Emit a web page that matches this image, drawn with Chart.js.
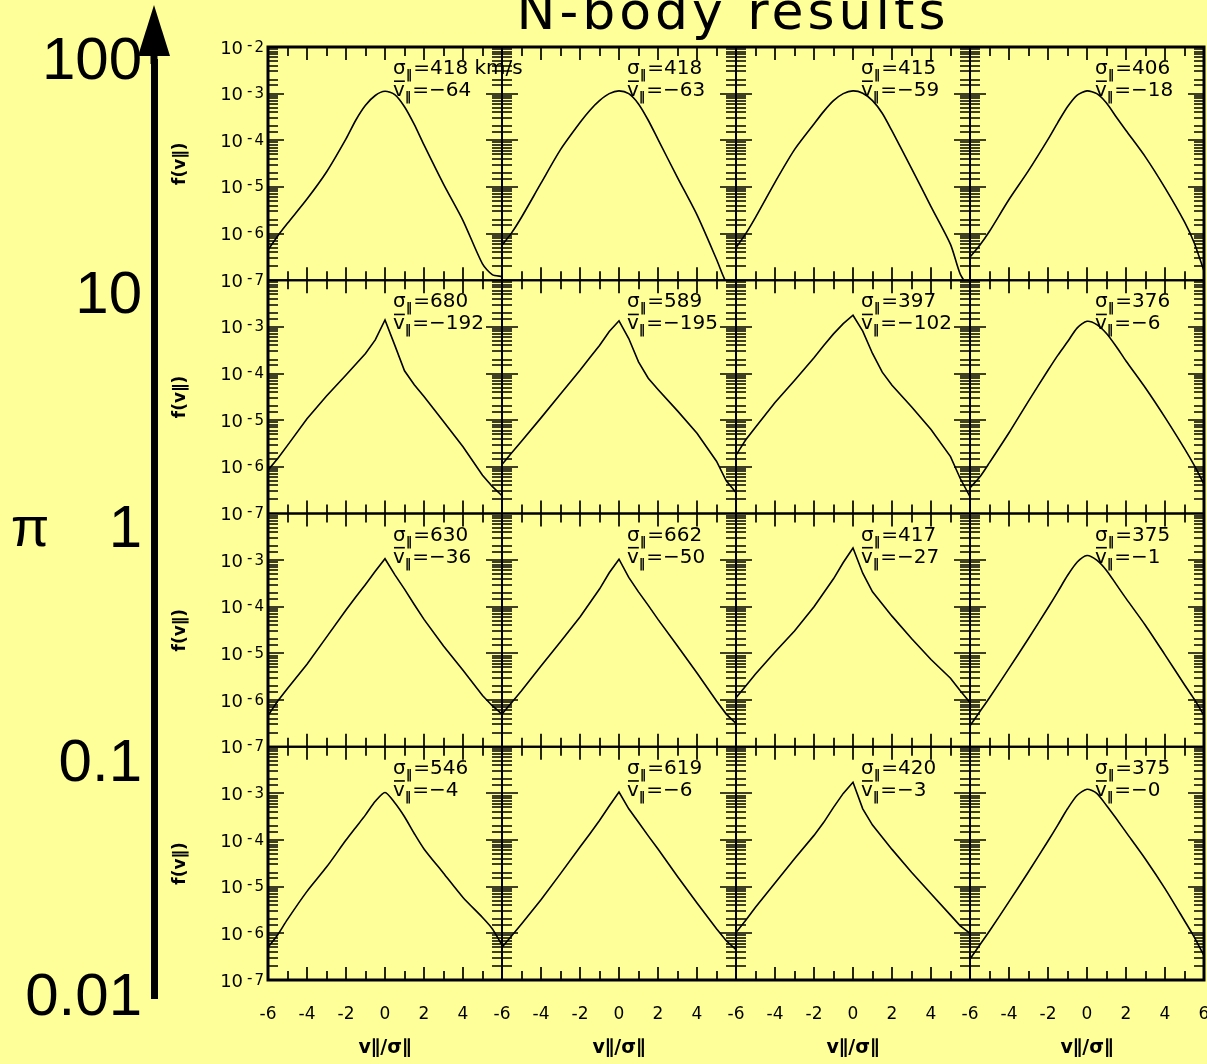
<!DOCTYPE html>
<html>
<head>
<meta charset="utf-8">
<title>N-body results</title>
<script src="https://cdn.jsdelivr.net/npm/chart.js@4.4.1/dist/chart.umd.min.js"></script>
<style>
  html, body { margin: 0; padding: 0; background: #FFFF99; }
  #wrap { position: relative; width: 1207px; height: 1064px; overflow: hidden; background: #FFFF99; }
  #wrap canvas { position: absolute; left: 0; top: 0; }
</style>
</head>
<body>
<div id="wrap">
  <canvas id="grid" width="1207" height="1064"></canvas>
  <canvas id="pi" width="170" height="1064"></canvas>
</div>
<script>
// ---- data ---------------------------------------------------------------
const titleText = 'N-body results';
const xTitle = 'v\u2225/\u03C3\u2225';
const yTitle = 'f(v\u2225)';
const sigmaUnit = 'km/s';

// line-of-sight velocity in units of sigma
const velocity = [-6, -5.5, -5, -4, -3, -2, -1.5, -1, -0.5, 0, 0.5, 1, 1.5, 2, 3, 4, 5, 5.5, 6];

// log10 f(v) for each panel, one array per row (columns left to right)
const logF_row0 = [
  [-6.35, -6.05, -5.78, -5.26, -4.68, -3.97, -3.57, -3.25, -3.04, -2.95, -3.02, -3.28, -3.66, -4.10, -4.94, -5.72, -6.65, -6.88, -6.92],
  [-6.25, -5.98, -5.65, -4.92, -4.20, -3.62, -3.36, -3.15, -3.00, -2.94, -3.00, -3.22, -3.57, -3.98, -4.80, -5.60, -6.55, -7.05, -7.30],
  [-6.30, -6.00, -5.65, -4.90, -4.20, -3.65, -3.38, -3.15, -3.00, -2.94, -2.99, -3.15, -3.42, -3.80, -4.60, -5.42, -6.23, -6.87, -7.20],
  [-6.50, -6.25, -5.95, -5.27, -4.65, -3.98, -3.62, -3.28, -3.03, -2.94, -3.00, -3.20, -3.50, -3.79, -4.36, -5.02, -5.75, -6.20, -6.80]
];
const logF_row1 = [
  [-6.07, -5.82, -5.54, -4.97, -4.48, -4.03, -3.80, -3.57, -3.28, -2.85, -3.39, -3.94, -4.24, -4.49, -5.03, -5.57, -6.18, -6.42, -6.62],
  [-5.95, -5.70, -5.45, -4.95, -4.44, -3.93, -3.66, -3.40, -3.10, -2.87, -3.25, -3.75, -4.10, -4.34, -4.80, -5.28, -5.88, -6.30, -6.55],
  [-5.75, -5.42, -5.15, -4.62, -4.15, -3.66, -3.40, -3.15, -2.93, -2.75, -3.09, -3.57, -3.97, -4.25, -4.71, -5.20, -5.78, -6.25, -6.64],
  [-6.45, -6.22, -5.91, -5.27, -4.59, -3.93, -3.61, -3.32, -3.02, -2.88, -2.95, -3.14, -3.42, -3.73, -4.31, -4.94, -5.61, -5.97, -6.37]
];
const logF_row2 = [
  [-6.33, -6.02, -5.75, -5.23, -4.65, -4.07, -3.79, -3.52, -3.24, -2.97, -3.31, -3.62, -3.95, -4.27, -4.84, -5.36, -5.90, -6.12, -6.30],
  [-6.30, -6.05, -5.80, -5.27, -4.75, -4.22, -3.92, -3.62, -3.27, -2.98, -3.37, -3.68, -3.97, -4.27, -4.84, -5.42, -6.02, -6.30, -6.50],
  [-5.95, -5.70, -5.44, -4.97, -4.52, -4.00, -3.70, -3.40, -3.05, -2.74, -3.28, -3.68, -3.94, -4.20, -4.68, -5.13, -5.53, -5.80, -6.05],
  [-6.55, -6.25, -5.95, -5.32, -4.68, -4.02, -3.68, -3.33, -3.04, -2.90, -3.00, -3.22, -3.52, -3.82, -4.40, -5.03, -5.67, -5.98, -6.33]
];
const logF_row3 = [
  [-6.30, -6.03, -5.70, -5.10, -4.58, -4.00, -3.73, -3.46, -3.17, -2.98, -3.20, -3.50, -3.86, -4.19, -4.71, -5.23, -5.66, -5.90, -6.25],
  [-6.30, -6.05, -5.80, -5.28, -4.72, -4.15, -3.87, -3.58, -3.27, -2.97, -3.33, -3.62, -3.91, -4.19, -4.78, -5.35, -5.90, -6.16, -6.35],
  [-5.98, -5.72, -5.44, -4.92, -4.40, -3.90, -3.62, -3.30, -3.00, -2.76, -3.33, -3.68, -3.94, -4.20, -4.69, -5.15, -5.61, -5.84, -6.00],
  [-6.55, -6.25, -5.95, -5.32, -4.68, -4.02, -3.68, -3.33, -3.04, -2.91, -3.00, -3.26, -3.54, -3.83, -4.41, -5.04, -5.73, -6.08, -6.48]
];

// dispersion and mean velocity printed in each panel
const sigmaPar = [[418, 418, 415, 406], [680, 589, 397, 376], [630, 662, 417, 375], [546, 619, 420, 375]];
const meanVel  = [[-64, -63, -59, -18], [-192, -195, -102, -6], [-36, -50, -27, -1], [-4, -6, -3, -0]];

// left-hand scale
const piTicks = [100, 10, 1, 0.1, 0.01];
const piSymbol = '\u03C0';

// ---- styling ------------------------------------------------------------
const SANS = "'DejaVu Sans', sans-serif";
const BIG = "'Liberation Sans', Arial, sans-serif";
// panels whose peak is rounded rather than cusped get a smoothed line
const roundTop = [[1, 1, 1, 1], [0, 0, 0, 1], [0, 0, 0, 1], [1, 0, 0, 1]];

const isDecade = (v) => { const e = Math.log10(v); return Math.abs(e - Math.round(e)) < 1e-6; };
const fmtSigned = (m) => (m < 0 || Object.is(m, -0)) ? '\u2212' + Math.abs(m) : String(m);

// ---- scales -------------------------------------------------------------
const scales = {};
for (let c = 0; c < 4; c++) {
  scales['x' + c] = {
    type: 'linear', position: 'bottom', stack: 'cols', min: -6, max: 6,
    grid: { display: false, drawTicks: false }, border: { display: false },
    ticks: {
      stepSize: 1, autoSkip: false, maxRotation: 0, minRotation: 0, padding: 24,
      color: '#000', font: { family: SANS, size: 17 },
      callback: (v) => (Math.abs(v % 2) === 1 || (v === 6 && c < 3)) ? '' : String(v)
    },
    title: { display: true, text: xTitle, color: '#000', font: { family: SANS, size: 19, weight: 'bold' }, padding: { top: 0, bottom: 5 } },
    afterFit: (s) => { s.height = 84; s.paddingLeft = 0; s.paddingRight = 0; }
  };
}
for (let r = 0; r < 4; r++) {
  scales['y' + r] = {
    type: 'logarithmic', position: 'left', stack: 'rows', weight: 4 - r, min: 1e-7, max: 1e-2,
    grid: { display: false, drawTicks: false }, border: { display: false },
    // decade labels are drawn by the panelFrames plugin (10 with raised exponent)
    ticks: { display: false, autoSkip: false },
    title: { display: true, text: yTitle, color: '#000', font: { family: SANS, size: 17, weight: 'bold' }, padding: { top: 5, bottom: 0 } },
    afterFit: (s) => { s.width = 103; s.paddingTop = 0; s.paddingBottom = 0; }
  };
}

// ---- datasets -----------------------------------------------------------
const rows = [logF_row0, logF_row1, logF_row2, logF_row3];
const datasets = [];
rows.forEach((row, r) => row.forEach((series, c) => {
  datasets.push({
    data: velocity.map((v, i) => ({ x: v, y: Math.pow(10, series[i]) })),
    xAxisID: 'x' + c, yAxisID: 'y' + r,
    borderColor: '#000', borderWidth: 1.6, pointRadius: 0,
    tension: roundTop[r][c] ? 0.25 : 0, fill: false
  });
}));

// ---- plugins ------------------------------------------------------------
function drawParts(ctx, x, y, parts) {
  for (const p of parts) {
    ctx.font = (p.bold ? 'bold ' : '') + p.size + 'px ' + SANS;
    const w = ctx.measureText(p.t).width;
    ctx.fillText(p.t, x, y + (p.dy || 0));
    if (p.bar) {
      ctx.fillRect(x + 1, y - p.size * 0.78, w - 1, 1.6);
    }
    x += w + (p.gap || 0);
  }
}

// "10" followed by a raised exponent, right-aligned at xr
function drawPower(ctx, xr, py, n) {
  const sign = n < 0 ? '-' : '';
  const digits = String(Math.abs(n));
  ctx.textAlign = 'left';
  ctx.textBaseline = 'alphabetic';
  ctx.font = '15px ' + SANS;
  const wd = ctx.measureText(digits).width;
  const ws = sign ? ctx.measureText(sign).width + 2 : 0;
  ctx.font = '18px ' + SANS;
  const w10 = ctx.measureText('10').width;
  const x10 = xr - wd - ws - 4 - w10;
  ctx.fillText('10', x10, py + 6.5);
  ctx.font = '15px ' + SANS;
  let xe = x10 + w10 + 4;
  if (sign) { ctx.fillText(sign, xe, py + 2.5); xe += ws; }
  ctx.fillText(digits, xe, py + 4.5);
}

const panelFrames = {
  id: 'panelFrames',
  afterDatasetsDraw(chart) {
    const ctx = chart.ctx;
    ctx.save();
    ctx.strokeStyle = '#000';
    ctx.fillStyle = '#000';
    for (let r = 0; r < 4; r++) {
      const ys = chart.scales['y' + r];
      // decade labels on the left column
      ys.ticks.forEach(t => {
        if (!isDecade(t.value)) return;
        const n = Math.round(Math.log10(t.value));
        if (r > 0 && n === -2) return;
        drawPower(ctx, ys.right - 4, ys.getPixelForValue(t.value), n);
      });
      for (let c = 0; c < 4; c++) {
        const xs = chart.scales['x' + c];
        const L = xs.left, R = xs.right, T = ys.top, B = ys.bottom;
        ctx.lineWidth = 1.7;
        ctx.beginPath();
        xs.ticks.forEach(t => {
          const px = Math.round(xs.getPixelForValue(t.value));
          if (px <= L + 1 || px >= R - 1) return;
          const len = Math.abs(t.value % 2) === 0 ? 13 : 9;
          ctx.moveTo(px, B); ctx.lineTo(px, B - len);
          ctx.moveTo(px, T); ctx.lineTo(px, T + len);
        });
        ys.ticks.forEach(t => {
          const py = Math.round(ys.getPixelForValue(t.value));
          if (py <= T + 1 || py >= B - 1) return;
          const len = isDecade(t.value) ? 16 : 10;
          ctx.moveTo(L, py); ctx.lineTo(L + len, py);
          ctx.moveTo(R, py); ctx.lineTo(R - len, py);
        });
        ctx.stroke();
        ctx.lineWidth = 2;
        ctx.strokeRect(L, T, R - L, B - T);

        // sigma and mean velocity
        ctx.textAlign = 'left';
        ctx.textBaseline = 'alphabetic';
        const x0 = L + 125;
        const unit = (r === 0 && c === 0) ? ' ' + sigmaUnit : '';
        drawParts(ctx, x0, T + 27, [
          { t: '\u03C3', size: 20 },
          { t: '\u2016', size: 13, dy: 5, gap: 1, bold: true },
          { t: '=' + sigmaPar[r][c] + unit, size: 20 }
        ]);
        drawParts(ctx, x0, T + 49, [
          { t: 'v', size: 20, bar: true },
          { t: '\u2016', size: 13, dy: 5, gap: 1, bold: true },
          { t: '=' + fmtSigned(meanVel[r][c]), size: 20 }
        ]);
      }
    }
    const a = chart.chartArea;
    ctx.lineWidth = 3;
    ctx.strokeRect(a.left, a.top, a.right - a.left, a.bottom - a.top);
    ctx.restore();
  },
  afterDraw(chart) {
    const ctx = chart.ctx;
    ctx.save();
    ctx.fillStyle = '#000';
    ctx.font = '52px ' + SANS;
    ctx.textAlign = 'center';
    ctx.textBaseline = 'alphabetic';
    if ('letterSpacing' in ctx) ctx.letterSpacing = '4px';
    ctx.fillText(titleText, 733, 29);
    ctx.restore();
  }
};

new Chart(document.getElementById('grid'), {
  type: 'line',
  data: { datasets },
  options: {
    responsive: false, animation: false, devicePixelRatio: 1,
    layout: { padding: { left: 165, top: 47, right: 3, bottom: 0 } },
    plugins: { legend: { display: false }, tooltip: { enabled: false }, title: { display: false } },
    scales
  },
  plugins: [panelFrames]
});

// ---- left-hand arrow scale ---------------------------------------------
const piArrow = {
  id: 'piArrow',
  afterDraw(chart) {
    const s = chart.scales.y;
    const ctx = chart.ctx;
    const cx = s.right;
    const top = s.getPixelForValue(piTicks[0]);
    ctx.save();
    ctx.fillStyle = '#000';
    ctx.beginPath();
    ctx.moveTo(cx, 5);
    ctx.lineTo(cx + 16, 56);
    ctx.lineTo(cx - 16, 56);
    ctx.closePath();
    ctx.fill();
    ctx.fillRect(cx - 3.5, 54, 7, top - 54 + 2);
    ctx.font = '56px ' + BIG;
    ctx.textAlign = 'center';
    ctx.textBaseline = 'alphabetic';
    ctx.fillText(piSymbol, 30, s.getPixelForValue(1) + 16);
    ctx.restore();
  }
};

new Chart(document.getElementById('pi'), {
  type: 'line',
  data: { datasets: [] },
  options: {
    responsive: false, animation: false, devicePixelRatio: 1,
    layout: { padding: { left: 0, top: 62, right: 0, bottom: 66 } },
    plugins: { legend: { display: false }, tooltip: { enabled: false } },
    scales: {
      x: { display: false },
      y: {
        type: 'logarithmic', position: 'left', min: 0.01, max: 100,
        afterBuildTicks: (s) => { s.ticks = piTicks.map(v => ({ value: v })); },
        grid: { display: false, drawTicks: false },
        border: { display: true, width: 7, color: '#000' },
        ticks: { autoSkip: false, padding: 12, color: '#000', font: { family: BIG, size: 60 }, callback: (v) => String(v) },
        afterFit: (s) => { s.width = 154; }
      }
    }
  },
  plugins: [piArrow]
});
</script>
</body>
</html>
